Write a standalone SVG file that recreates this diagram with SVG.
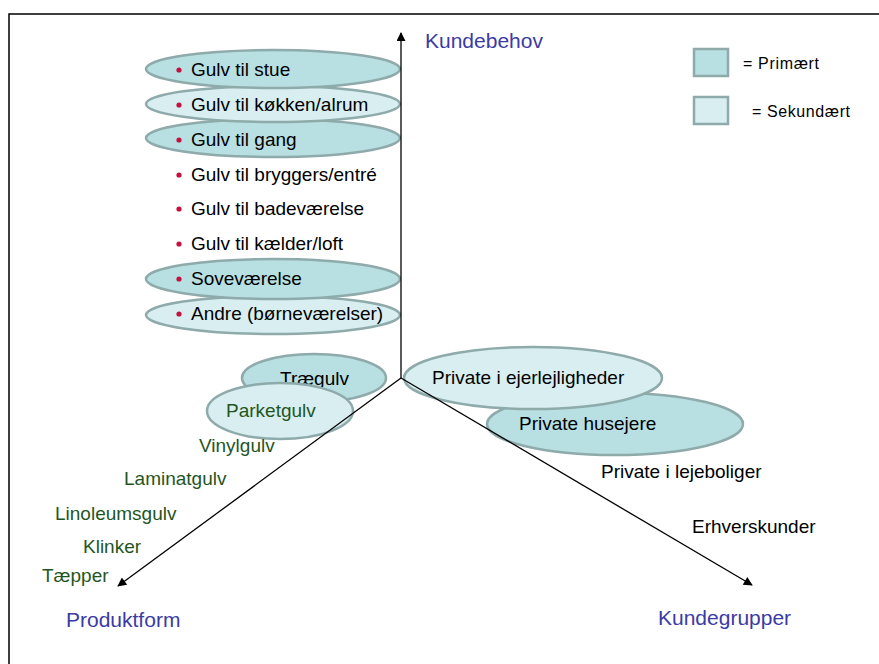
<svg xmlns="http://www.w3.org/2000/svg" width="879" height="664" viewBox="0 0 879 664">
<style>
text{font-family:"Liberation Sans",Arial,sans-serif;font-size:19px;fill:#000}
.ax{font-size:21px;fill:#3b3ba6}
.gr{fill:#1f561f}
.lg{font-size:16px}
.p{fill:#b8dfe1;stroke:#8eaaab;stroke-width:2.5}
.s{fill:#d9eef0;stroke:#8eaaab;stroke-width:2.5}
.b{fill:#c4123f}
.axis{stroke:#000;stroke-width:1.3;fill:none}
</style>
<defs>
<marker id="ah" viewBox="0 0 10 10" refX="9" refY="5" markerWidth="10" markerHeight="9" markerUnits="userSpaceOnUse" orient="auto">
<path d="M0,0 L10,5 L0,10 z" fill="#000"/>
</marker>
</defs>
<rect x="9" y="14" width="880" height="660" fill="#fff" stroke="#000" stroke-width="1.5"/>
<g id="n-gang"><ellipse class="p" cx="273" cy="138" rx="127" ry="19"/><circle class="b" cx="179" cy="140" r="2.6"/><text x="191" y="146">Gulv til gang</text></g>
<g id="n-koekken"><ellipse class="s" cx="273" cy="104" rx="127" ry="18"/><circle class="b" cx="179" cy="105" r="2.6"/><text x="191" y="111">Gulv til køkken/alrum</text></g>
<g id="n-stue"><ellipse class="p" cx="273" cy="69" rx="127" ry="19"/><circle class="b" cx="179" cy="70" r="2.6"/><text x="191" y="76">Gulv til stue</text></g>
<g id="n-bryggers"><circle class="b" cx="179" cy="175" r="2.6"/><text x="191" y="181">Gulv til bryggers/entré</text></g>
<g id="n-bad"><circle class="b" cx="179" cy="209" r="2.6"/><text x="191" y="215">Gulv til badeværelse</text></g>
<g id="n-kaelder"><circle class="b" cx="179" cy="244" r="2.6"/><text x="191" y="250">Gulv til kælder/loft</text></g>
<g id="n-andre"><ellipse class="s" cx="273" cy="315" rx="127" ry="19"/><circle class="b" cx="179" cy="314" r="2.6"/><text x="191" y="320">Andre (børneværelser)</text></g>
<g id="n-sove"><ellipse class="p" cx="273" cy="279" rx="127" ry="20"/><circle class="b" cx="179" cy="279" r="2.6"/><text x="191" y="285">Soveværelse</text></g>
<g id="n-traegulv"><ellipse class="p" cx="314" cy="378" rx="72" ry="24"/><text x="280" y="385">Trægulv</text></g>
<g id="n-parket"><ellipse class="s" cx="280" cy="411" rx="73" ry="28"/><text class="gr" x="226" y="417">Parketgulv</text></g>
<g id="n-vinyl"><text class="gr" x="199" y="452">Vinylgulv</text></g>
<g id="n-laminat"><text class="gr" x="124" y="485">Laminatgulv</text></g>
<g id="n-linoleum"><text class="gr" x="55" y="520">Linoleumsgulv</text></g>
<g id="n-klinker"><text class="gr" x="83" y="553">Klinker</text></g>
<g id="n-taepper"><text class="gr" x="42" y="582">Tæpper</text></g>
<g id="n-husejere"><ellipse class="p" cx="615" cy="424" rx="128" ry="31"/><text x="519" y="430">Private husejere</text></g>
<g id="n-ejer"><ellipse class="s" cx="533" cy="378" rx="129" ry="31"/><text x="432" y="384">Private i ejerlejligheder</text></g>
<g id="n-leje"><text x="601" y="478">Private i lejeboliger</text></g>
<g id="n-erhverv"><text x="692" y="533">Erhverskunder</text></g>
<g id="connectors">
<line class="axis" x1="401" y1="378" x2="401" y2="33" marker-end="url(#ah)"/>
<line class="axis" x1="401" y1="378" x2="118" y2="586" marker-end="url(#ah)"/>
<line class="axis" x1="401" y1="378" x2="752" y2="585" marker-end="url(#ah)"/>
</g>
<g id="labels">
<text class="ax" x="425" y="48">Kundebehov</text>
<text class="ax" x="66" y="627">Produktform</text>
<text class="ax" x="658" y="625">Kundegrupper</text>
</g>
<g id="legend">
<rect class="p" x="694" y="49" width="34" height="27"/>
<text class="lg" x="743" y="69" textLength="76">= Primært</text>
<rect class="s" x="694" y="97" width="34" height="27"/>
<text class="lg" x="752" y="117" textLength="98">= Sekundært</text>
</g>
</svg>
